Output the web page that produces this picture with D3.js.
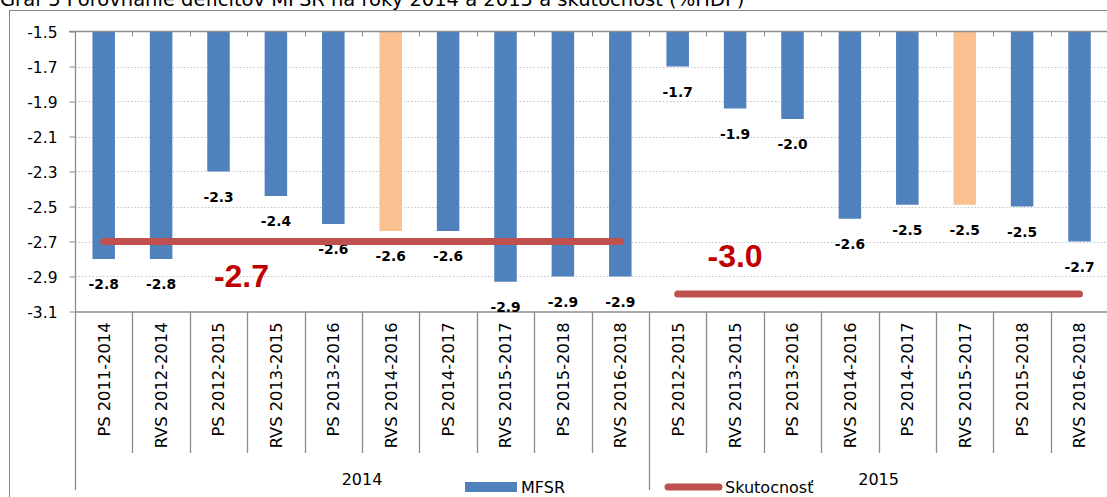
<!DOCTYPE html>
<html>
<head>
<meta charset="utf-8">
<script src="https://cdn.jsdelivr.net/npm/d3@7"></script>
<style>
  html, body { margin: 0; padding: 0; background: #fff; overflow: hidden; }
  svg { display: block; font-family: "DejaVu Sans", sans-serif; }
</style>
</head>
<body>
<svg id="chart" width="1107" height="497"></svg>
<script>
// ---- data ----
const title = "Graf 5 Porovnanie deficitov MFSR na roky 2014 a 2015 a skutocnosť (%HDP)";
const categories = [
  "PS 2011-2014", "RVS 2012-2014", "PS 2012-2015", "RVS 2013-2015", "PS 2013-2016",
  "RVS 2014-2016", "PS 2014-2017", "RVS 2015-2017", "PS 2015-2018", "RVS 2016-2018",
  "PS 2012-2015", "RVS 2013-2015", "PS 2013-2016", "RVS 2014-2016", "PS 2014-2017",
  "RVS 2015-2017", "PS 2015-2018", "RVS 2016-2018"
];
const categoryYear = ["2014","2014","2014","2014","2014","2014","2014","2014","2014","2014",
                      "2015","2015","2015","2015","2015","2015","2015","2015"];
const mfsr = [-2.8, -2.8, -2.3, -2.44, -2.6, -2.64, -2.64, -2.93, -2.9, -2.9,
              -1.7, -1.94, -2.0, -2.57, -2.49, -2.49, -2.5, -2.7];
const highlighted = [5, 15];           // budget of the given year
const years = ["2014", "2015"];
const actual = [-2.7, -3.0];           // skutocnosť
const yTicks = [-1.5, -1.7, -1.9, -2.1, -2.3, -2.5, -2.7, -2.9, -3.1];
const seriesNames = ["MFSR", "Skutocnosť"];

// ---- layout ----
const svg = d3.select("#chart");
const pLeft = 75, pTop = 31.5, pBottom = 311.5, band = 57.4;
const pRight = pLeft + band * categories.length;
const fmt = v => v.toFixed(1);
const axisColor = "#8c8c8c";

const x = d3.scaleBand().domain(d3.range(categories.length)).range([pLeft, pRight]).paddingInner(0).paddingOuter(0);
const y = d3.scaleLinear().domain([-1.5, -3.1]).range([pTop, pBottom]);
const barW = 22.5;
const cx = i => x(i) + x.bandwidth() / 2;
const edge = i => (i >= categories.length ? pRight : x(i));

// frame
svg.append("rect").attr("x", 9.5).attr("y", 10.5).attr("width", 1200).attr("height", 600)
  .attr("fill", "none").attr("stroke", "#868686").attr("stroke-width", 1);

// title (partly cut at top, as in the source)
svg.append("text").attr("x", 0).attr("y", 6).attr("font-size", 19.5).attr("fill", "#000").text(title);

// gridlines
svg.append("g").selectAll("line").data(yTicks.slice(1, -1)).join("line")
  .attr("x1", pLeft).attr("x2", 1107)
  .attr("y1", d => Math.round(y(d)) + 0.5).attr("y2", d => Math.round(y(d)) + 0.5)
  .attr("stroke", "#c4c4c4").attr("stroke-width", 1).attr("stroke-dasharray", "1.5,2");

// bars
svg.append("g").selectAll("rect").data(mfsr).join("rect")
  .attr("x", (d, i) => cx(i) - barW / 2)
  .attr("y", y(-1.5))
  .attr("width", barW)
  .attr("height", d => y(d) - y(-1.5))
  .attr("fill", (d, i) => highlighted.includes(i) ? "#FAC08F" : "#4F81BD");

// top axis line with ticks (category axis crosses at -1.5)
svg.append("line").attr("x1", pLeft - 6).attr("x2", 1107).attr("y1", y(-1.5)).attr("y2", y(-1.5))
  .attr("stroke", axisColor).attr("stroke-width", 1.3);
svg.append("g").selectAll("line").data(d3.range(1, categories.length)).join("line")
  .attr("x1", i => Math.round(edge(i)) + 0.5).attr("x2", i => Math.round(edge(i)) + 0.5)
  .attr("y1", y(-1.5)).attr("y2", y(-1.5) + 5)
  .attr("stroke", axisColor).attr("stroke-width", 1);

// y axis
const yAxis = d3.axisLeft(y).tickValues(yTicks).tickFormat(fmt).tickSize(6).tickSizeOuter(0);
const ya = svg.append("g").attr("transform", `translate(${pLeft + 0.5},0)`).call(yAxis);
ya.select(".domain").remove();
ya.selectAll(".tick line").attr("stroke", axisColor).attr("stroke-width", 1);
ya.selectAll(".tick text").attr("font-size", 15.5).attr("font-family", "DejaVu Sans").attr("fill", "#000")
  .attr("x", -18).attr("dy", "0.36em");
svg.append("line").attr("x1", pLeft + 0.5).attr("x2", pLeft + 0.5).attr("y1", pTop).attr("y2", 490)
  .attr("stroke", axisColor).attr("stroke-width", 1.3);

// bottom category box
svg.append("line").attr("x1", pLeft).attr("x2", 1107).attr("y1", pBottom + 0.5).attr("y2", pBottom + 0.5)
  .attr("stroke", axisColor).attr("stroke-width", 1.3);
svg.append("g").selectAll("line").data(d3.range(1, categories.length + 1)).join("line")
  .attr("x1", i => Math.round(edge(i)) + 0.5)
  .attr("x2", i => Math.round(edge(i)) + 0.5)
  .attr("y1", pBottom)
  .attr("y2", i => (i === categories.length || categoryYear[i] !== categoryYear[i - 1]) ? 490 : 453)
  .attr("stroke", axisColor).attr("stroke-width", 1.3);

// category labels
svg.append("g").selectAll("text").data(categories).join("text")
  .attr("transform", (d, i) => `translate(${cx(i)},${pBottom + 11}) rotate(-90)`)
  .attr("text-anchor", "end").attr("dy", "0.36em")
  .attr("font-size", 16.3).attr("fill", "#000").text(d => d);

// group labels
years.forEach(yr => {
  const idx = categoryYear.map((c, i) => c === yr ? i : -1).filter(i => i >= 0);
  const x0 = x(idx[0]), x1 = x(idx[idx.length - 1]) + x.bandwidth();
  svg.append("text").attr("x", (x0 + x1) / 2).attr("y", 485).attr("text-anchor", "middle")
    .attr("font-size", 16).attr("fill", "#000").text(yr);
});

// value labels
svg.append("g").selectAll("text").data(mfsr).join("text")
  .attr("x", (d, i) => cx(i)).attr("y", d => y(d) + 30)
  .attr("text-anchor", "middle").attr("font-weight", "bold").attr("font-size", 13.8)
  .attr("fill", "#000").text(d => fmt(d));

// actual line
const actualPts = categories.map((c, i) => ({ i, v: actual[years.indexOf(categoryYear[i])], yr: categoryYear[i] }));
const line = d3.line().x(d => cx(d.i)).y(d => y(d.v));
years.forEach(yr => {
  svg.append("path").datum(actualPts.filter(p => p.yr === yr)).attr("d", line)
    .attr("fill", "none").attr("stroke", "#C0504D").attr("stroke-width", 7).attr("stroke-linecap", "round");
});

// big annotations of actual values
const annot = [{ v: actual[0], at: 2.9, dy: 45 }, { v: actual[1], at: 11.5, dy: -27.5 }];
annot.forEach(a => {
  svg.append("text").attr("x", pLeft + a.at * band).attr("y", y(a.v) + a.dy)
    .attr("text-anchor", "middle").attr("font-family", "Liberation Sans, Arial, sans-serif")
    .attr("font-weight", "bold").attr("font-size", 32).attr("fill", "#C00000").text(fmt(a.v));
});

// legend
const lg = svg.append("g");
lg.append("rect").attr("x", 465).attr("y", 482).attr("width", 52).attr("height", 10).attr("fill", "#4F81BD");
lg.append("text").attr("x", 521).attr("y", 493).attr("font-size", 16).attr("fill", "#000").text(seriesNames[0]);
lg.append("line").attr("x1", 668).attr("x2", 719).attr("y1", 487).attr("y2", 487)
  .attr("stroke", "#C0504D").attr("stroke-width", 7).attr("stroke-linecap", "round");
lg.append("text").attr("x", 725).attr("y", 493).attr("font-size", 16).attr("fill", "#000").text(seriesNames[1]);
</script>
</body>
</html>
